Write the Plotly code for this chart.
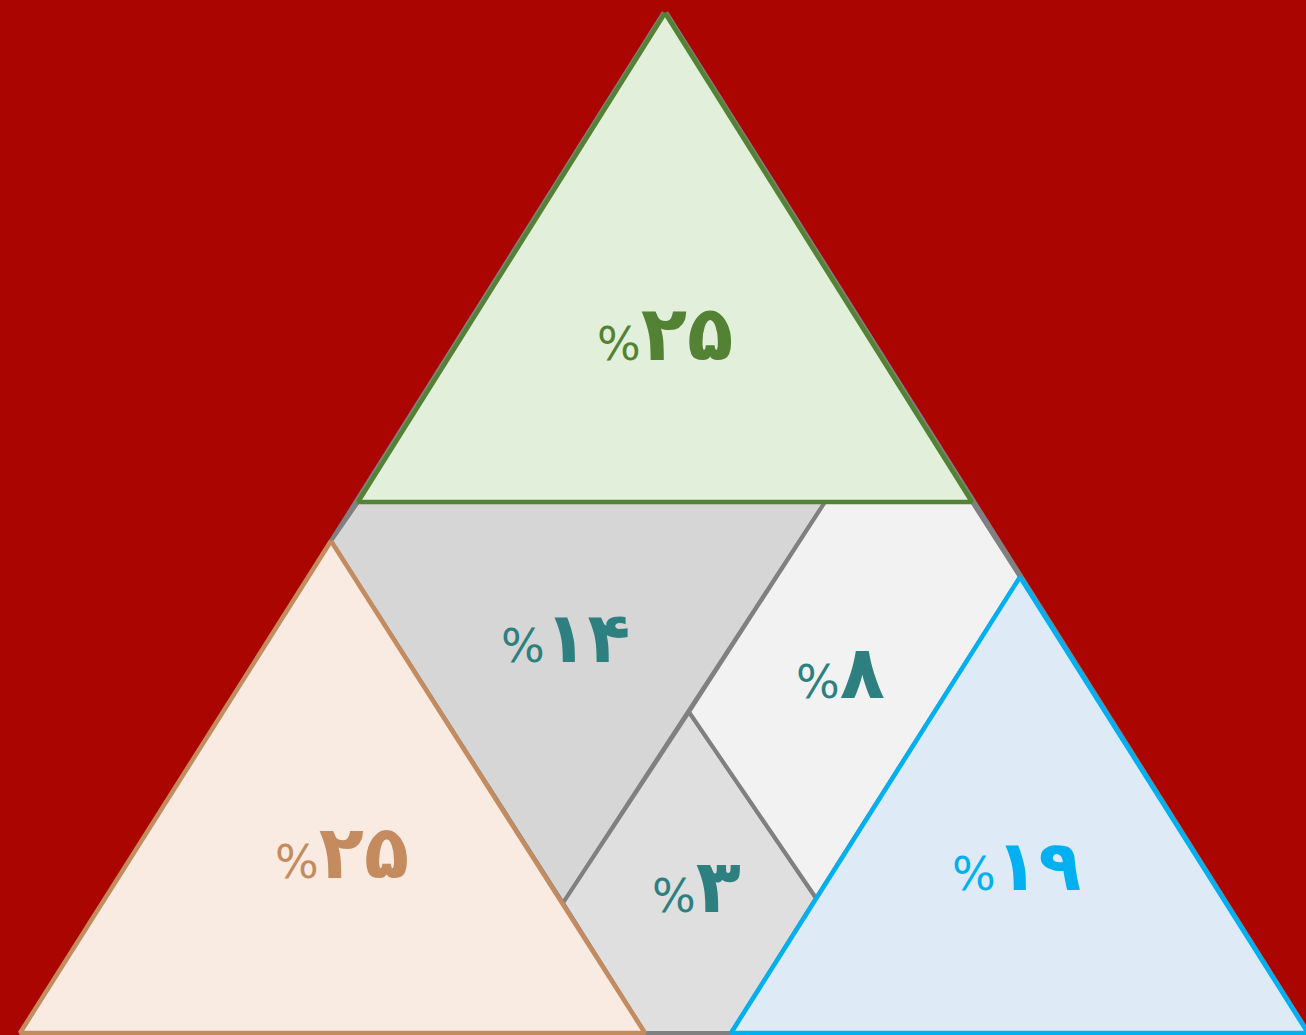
import plotly.graph_objects as go

# Eckpunkte der Flaechen (Pixel-Koordinaten, y nach unten)
outer_x = [665, 23, 1307, 665]
outer_y = [13, 1033, 1033, 13]

green_x = [665, 358, 972, 665]
green_y = [13, 502, 502, 13]

orange_x = [331, 20, 645, 331]
orange_y = [541, 1033, 1033, 541]

blue_x = [1020, 731, 1308, 1020]
blue_y = [577, 1033, 1033, 577]

mid14_x = [358, 825, 563, 331, 358]
mid14_y = [502, 502, 903, 541, 502]

mid3_x = [689, 563, 645, 731, 816, 689]
mid3_y = [712, 903, 1033, 1033, 898, 712]

mid8_x = [825, 972, 1020, 816, 689, 825]
mid8_y = [502, 502, 577, 898, 712, 502]

# Beschriftungen
labels = ["۲۵", "۲۵", "۱۹", "۱۴", "۸", "۳"]
label_x = [665, 342, 1016, 565, 840, 696]
label_y = [333, 852, 866, 638, 672, 886]
label_size = [76, 74, 70, 70, 74, 74]
label_col = ["#548235", "#C48B5F", "#00B0F0", "#2E7F7F", "#2E7F7F", "#2E7F7F"]

bg = "#AA0500"

fig = go.Figure()

fig.add_trace(go.Scatter(x=outer_x, y=outer_y, mode="lines",
                         line=dict(color="#808080", width=7), hoverinfo="skip"))

for xs, ys, fill in [(mid14_x, mid14_y, "#D6D6D6"),
                     (mid3_x, mid3_y, "#DFDFDF"),
                     (mid8_x, mid8_y, "#F2F2F2")]:
    fig.add_trace(go.Scatter(x=xs, y=ys, mode="lines", fill="toself", fillcolor=fill,
                             line=dict(color="#808080", width=4), hoverinfo="skip"))

for xs, ys, fill, col in [(green_x, green_y, "#E2EFDA", "#548235"),
                          (orange_x, orange_y, "#F9EBE2", "#C48B5F"),
                          (blue_x, blue_y, "#DEEAF6", "#00B0F0")]:
    fig.add_trace(go.Scatter(x=xs, y=ys, mode="lines", fill="toself", fillcolor=fill,
                             line=dict(color=col, width=4.5), hoverinfo="skip"))

for t, x, y, s, c in zip(labels, label_x, label_y, label_size, label_col):
    fig.add_annotation(
        x=x, y=y, xref="x", yref="y", showarrow=False,
        text=f"<span style='font-size:46px;font-weight:normal'>%</span><b>{t}</b>",
        font=dict(family="DejaVu Sans", size=s, color=c),
    )

fig.update_layout(
    width=1306, height=1035,
    margin=dict(l=0, r=0, t=0, b=0),
    paper_bgcolor=bg, plot_bgcolor=bg,
    showlegend=False,
    xaxis=dict(range=[0, 1306], visible=False, fixedrange=True),
    yaxis=dict(range=[1035, 0], visible=False, fixedrange=True),
)

fig.write_html("out.html", config={"displayModeBar": False},
               post_script="document.body.style.margin='0';document.body.style.overflow='hidden';")
